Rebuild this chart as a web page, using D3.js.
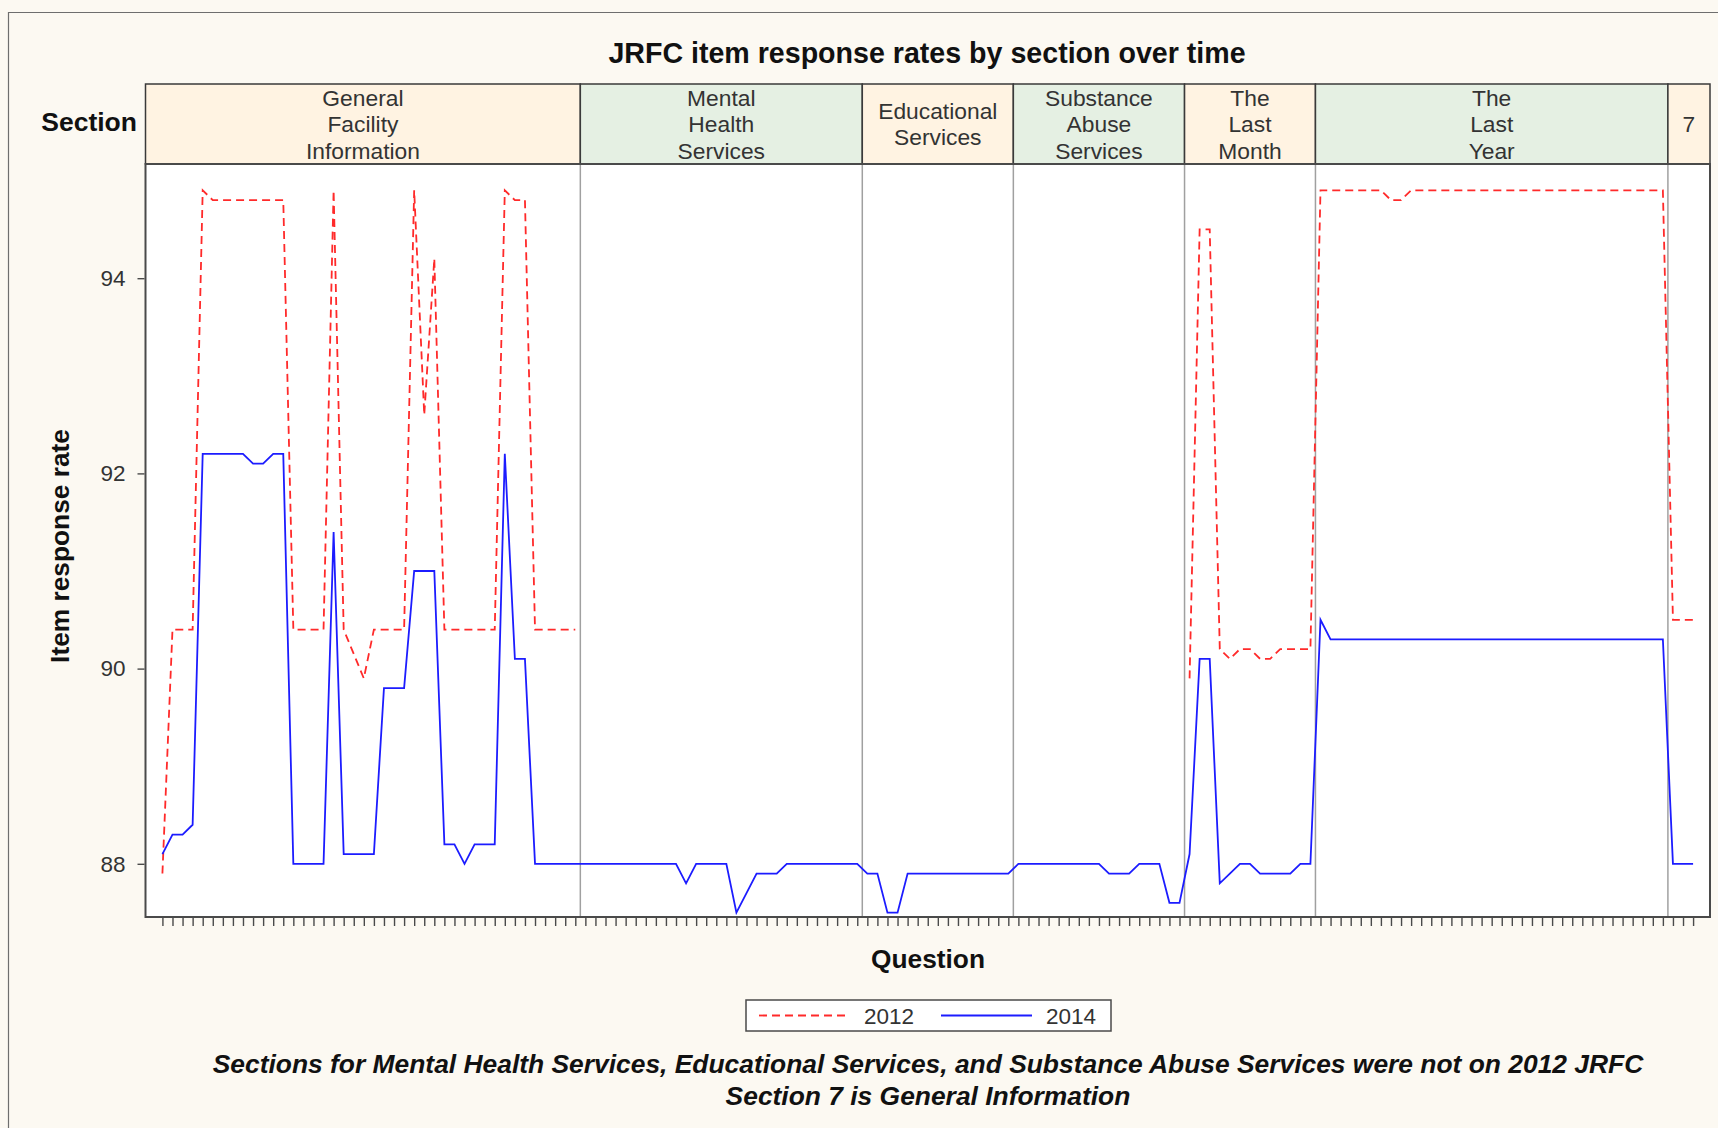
<!DOCTYPE html>
<html>
<head>
<meta charset="utf-8">
<script src="https://cdn.jsdelivr.net/npm/d3@7"></script>
<style>
  html, body { margin: 0; padding: 0; background: #fcf9f2; }
  svg { display: block; }
  text { font-family: "Liberation Sans", Arial, sans-serif; }
</style>
</head>
<body>
<svg id="chart" width="1718" height="1128"></svg>
<script>
// ---------------- DATA ----------------
const sectionNames = [
  ["General", "Facility", "Information"],
  ["Mental", "Health", "Services"],
  ["Educational", "Services"],
  ["Substance", "Abuse", "Services"],
  ["The", "Last", "Month"],
  ["The", "Last", "Year"],
  ["7"]
];
const sectionSizes = [42, 28, 15, 17, 13, 35, 3];
const seriesNames = ["2012", "2014"];
const yTicks = [88, 90, 92, 94];

// 2012 item response rates (null = section not on the 2012 JRFC)
const rate2012 = [
  // General Facility Information
  87.9, 90.4, 90.4, 90.4, 94.9, 94.8, 94.8, 94.8, 94.8, 94.8, 94.8, 94.8, 94.8,
  90.4, 90.4, 90.4, 90.4, 94.9, 90.4, 90.15, 89.9, 90.4, 90.4, 90.4, 90.4,
  94.9, 92.6, 94.2, 90.4, 90.4, 90.4, 90.4, 90.4, 90.4, 94.9, 94.8, 94.8,
  90.4, 90.4, 90.4, 90.4, 90.4,
  // Mental Health Services
  null, null, null, null, null, null, null, null, null, null, null, null, null, null,
  null, null, null, null, null, null, null, null, null, null, null, null, null, null,
  // Educational Services
  null, null, null, null, null, null, null, null, null, null, null, null, null, null, null,
  // Substance Abuse Services
  null, null, null, null, null, null, null, null, null, null, null, null, null, null, null, null, null,
  // The Last Month
  89.9, 94.5, 94.5, 90.2, 90.1, 90.2, 90.2, 90.1, 90.1, 90.2, 90.2, 90.2, 90.2,
  // The Last Year
  94.9, 94.9, 94.9, 94.9, 94.9, 94.9, 94.9, 94.8, 94.8, 94.9, 94.9, 94.9,
  94.9, 94.9, 94.9, 94.9, 94.9, 94.9, 94.9, 94.9, 94.9, 94.9, 94.9, 94.9,
  94.9, 94.9, 94.9, 94.9, 94.9, 94.9, 94.9, 94.9, 94.9, 94.9, 94.9,
  // 7
  90.5, 90.5, 90.5
];

// 2014 item response rates
const rate2014 = [
  // General Facility Information
  88.1, 88.3, 88.3, 88.4, 92.2, 92.2, 92.2, 92.2, 92.2, 92.1, 92.1, 92.2, 92.2,
  88.0, 88.0, 88.0, 88.0, 91.4, 88.1, 88.1, 88.1, 88.1, 89.8, 89.8, 89.8,
  91.0, 91.0, 91.0, 88.2, 88.2, 88.0, 88.2, 88.2, 88.2, 92.2, 90.1, 90.1,
  88.0, 88.0, 88.0, 88.0, 88.0,
  // Mental Health Services
  88.0, 88.0, 88.0, 88.0, 88.0, 88.0, 88.0, 88.0, 88.0, 88.0, 87.8, 88.0, 88.0, 88.0,
  88.0, 87.5, 87.7, 87.9, 87.9, 87.9, 88.0, 88.0, 88.0, 88.0, 88.0, 88.0, 88.0, 88.0,
  // Educational Services
  87.9, 87.9, 87.5, 87.5, 87.9, 87.9, 87.9, 87.9, 87.9, 87.9, 87.9, 87.9, 87.9, 87.9, 87.9,
  // Substance Abuse Services
  88.0, 88.0, 88.0, 88.0, 88.0, 88.0, 88.0, 88.0, 88.0, 87.9, 87.9, 87.9, 88.0, 88.0, 88.0, 87.6, 87.6,
  // The Last Month
  88.1, 90.1, 90.1, 87.8, 87.9, 88.0, 88.0, 87.9, 87.9, 87.9, 87.9, 88.0, 88.0,
  // The Last Year
  90.5, 90.3, 90.3, 90.3, 90.3, 90.3, 90.3, 90.3, 90.3, 90.3, 90.3, 90.3,
  90.3, 90.3, 90.3, 90.3, 90.3, 90.3, 90.3, 90.3, 90.3, 90.3, 90.3, 90.3,
  90.3, 90.3, 90.3, 90.3, 90.3, 90.3, 90.3, 90.3, 90.3, 90.3, 90.3,
  // 7
  88.0, 88.0, 88.0
];

const titleText = "JRFC item response rates by section over time";
const footnotes = [
  "Sections for Mental Health Services, Educational Services, and Substance Abuse Services were not on 2012 JRFC",
  "Section 7 is General Information"
];

// ---------------- LAYOUT ----------------
const svg = d3.select("#chart");
const W = 1718, H = 1128;
const plot = { left: 145.5, right: 1710, top: 164, bottom: 917 };
const header = { top: 84, bottom: 164 };
const textColor = "#333333";
const col2012 = "#ff2a2a", col2014 = "#1c1cff";

// questions (categories) derived from section sizes
const questions = [];
sectionSizes.forEach((n) => {
  for (let i = 0; i < n; i++) questions.push("Q" + (questions.length + 1));
});

const x = d3.scalePoint().domain(questions).range([plot.left, plot.right]).padding(1.68);
const y = d3.scaleLinear().domain([87.455, 95.17]).range([plot.bottom, plot.top]);

// outer frame
svg.append("rect").attr("x", 0).attr("y", 0).attr("width", W).attr("height", H).attr("fill", "#fcf9f2");
svg.append("path").attr("d", `M8.5,${H} V12.5 H${W}`).attr("fill", "none").attr("stroke", "#6e6e6e").attr("stroke-width", 1.2);

// title
svg.append("text").attr("x", 927).attr("y", 63).attr("text-anchor", "middle")
  .attr("font-size", 28.6).attr("font-weight", "bold").attr("fill", "#111").text(titleText);

// plot background
svg.append("rect").attr("x", plot.left).attr("y", plot.top)
  .attr("width", plot.right - plot.left).attr("height", plot.bottom - plot.top).attr("fill", "#ffffff");

// section boundaries
const starts = [];
let acc = 0;
sectionSizes.forEach(n => { starts.push(acc); acc += n; });
const bounds = [];
for (let s = 1; s < sectionSizes.length; s++) {
  bounds.push((x(questions[starts[s] - 1]) + x(questions[starts[s]])) / 2);
}
const cellEdges = [plot.left, ...bounds, plot.right];

// header cells
const hdr = svg.append("g");
sectionNames.forEach((lines, s) => {
  const x0 = cellEdges[s], x1 = cellEdges[s + 1];
  hdr.append("rect").attr("x", x0).attr("y", header.top).attr("width", x1 - x0)
    .attr("height", header.bottom - header.top)
    .attr("fill", s % 2 === 0 ? "#fff3e2" : "#e5f0e3")
    .attr("stroke", "#3a3a3a").attr("stroke-width", 1.5);
  const cy = (header.top + header.bottom) / 2 + (lines.length === 2 ? -0.5 : 0.2);
  const lh = 26.3;
  lines.forEach((ln, i) => {
    hdr.append("text").attr("x", (x0 + x1) / 2)
      .attr("y", cy + (i - (lines.length - 1) / 2) * lh)
      .attr("dy", "0.36em").attr("text-anchor", "middle")
      .attr("font-size", 22.8).attr("fill", textColor).text(ln);
  });
});
svg.append("text").attr("x", 137).attr("y", 131).attr("text-anchor", "end")
  .attr("font-size", 26.5).attr("font-weight", "bold").attr("fill", "#111").text("Section");

// vertical section separators in plot
svg.append("g").selectAll("line").data(bounds).join("line")
  .attr("x1", d => d).attr("x2", d => d).attr("y1", plot.top).attr("y2", plot.bottom)
  .attr("stroke", "#a0a0a0").attr("stroke-width", 1.5);

// lines
const pts = (arr) => questions.map((q, i) => ({ q, v: arr[i] }));
const line = d3.line().defined(d => d.v != null).x(d => x(d.q)).y(d => y(d.v));
svg.append("path").datum(pts(rate2012)).attr("d", line).attr("fill", "none")
  .attr("stroke", col2012).attr("stroke-width", 1.8).attr("stroke-dasharray", "8,5");
svg.append("path").datum(pts(rate2014)).attr("d", line).attr("fill", "none")
  .attr("stroke", col2014).attr("stroke-width", 1.8);

// plot frame
svg.append("rect").attr("x", plot.left).attr("y", plot.top)
  .attr("width", plot.right - plot.left).attr("height", plot.bottom - plot.top)
  .attr("fill", "none").attr("stroke", "#4a4a4a").attr("stroke-width", 2);

// x axis ticks
const xAxis = svg.append("g").attr("transform", `translate(0,${plot.bottom + 1})`)
  .call(d3.axisBottom(x).tickSizeInner(8).tickSizeOuter(0).tickFormat(""));
xAxis.select(".domain").remove();
xAxis.selectAll(".tick line").attr("stroke", "#4a4a4a").attr("stroke-width", 1.4);

// y axis
const yAxis = svg.append("g").attr("transform", `translate(${plot.left - 1},0)`)
  .call(d3.axisLeft(y).tickValues(yTicks).tickSizeInner(7).tickSizeOuter(0).tickPadding(12));
yAxis.select(".domain").remove();
yAxis.selectAll(".tick line").attr("stroke", "#4a4a4a").attr("stroke-width", 1.4);
yAxis.selectAll(".tick text").attr("font-size", 22.5).attr("fill", textColor)
  .attr("font-family", "'Liberation Sans', Arial, sans-serif");

// axis labels
svg.append("text").attr("transform", "translate(69,546) rotate(-90)").attr("text-anchor", "middle")
  .attr("font-size", 26.3).attr("font-weight", "bold").attr("fill", "#111").text("Item response rate");
svg.append("text").attr("x", 928).attr("y", 968).attr("text-anchor", "middle")
  .attr("font-size", 26.3).attr("font-weight", "bold").attr("fill", "#111").text("Question");

// legend
const lg = svg.append("g");
lg.append("rect").attr("x", 746).attr("y", 1000).attr("width", 365).attr("height", 31)
  .attr("fill", "#ffffff").attr("stroke", "#4a4a4a").attr("stroke-width", 1.5);
const ly = 1015.5;
const legendItems = [
  { name: seriesNames[0], color: col2012, dash: "8,5", x0: 759, x1: 850, tx: 864 },
  { name: seriesNames[1], color: col2014, dash: null, x0: 941, x1: 1032, tx: 1046 }
];
legendItems.forEach(it => {
  lg.append("line").attr("x1", it.x0).attr("x2", it.x1).attr("y1", ly).attr("y2", ly)
    .attr("stroke", it.color).attr("stroke-width", 1.8).attr("stroke-dasharray", it.dash);
  lg.append("text").attr("x", it.tx).attr("y", ly).attr("dy", "0.36em")
    .attr("font-size", 22.5).attr("fill", textColor).text(it.name);
});

// footnotes
footnotes.forEach((f, i) => {
  svg.append("text").attr("x", 928).attr("y", 1073 + i * 32).attr("text-anchor", "middle")
    .attr("font-size", 26.4).attr("font-weight", "bold").attr("font-style", "italic")
    .attr("fill", "#111").text(f);
});
</script>
</body>
</html>
